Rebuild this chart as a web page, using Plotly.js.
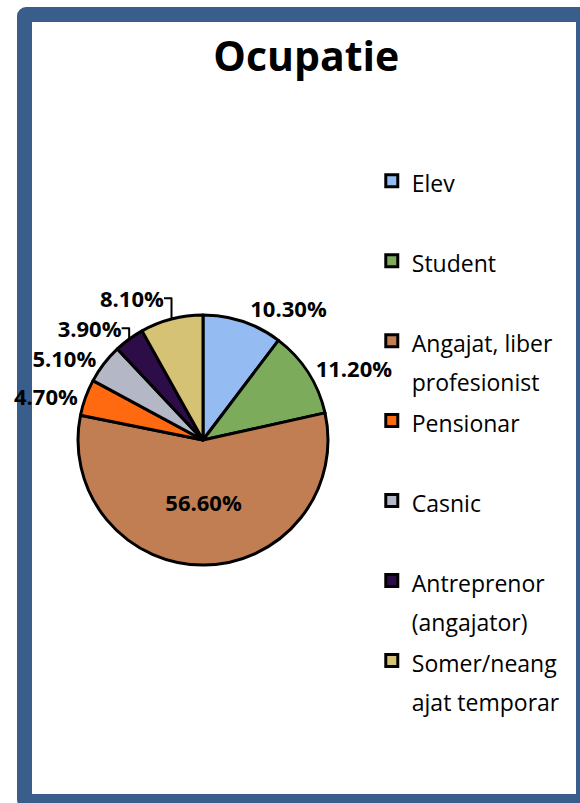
<!DOCTYPE html>
<html>
<head>
<meta charset="utf-8">
<script src="https://cdn.plot.ly/plotly-3.0.1.min.js"></script>
<style>
  html, body { margin: 0; padding: 0; background: #ffffff; overflow: hidden; }
  #frame { position: absolute; left: 17px; top: 7px; width: 574px; height: 802px;
           border: 15px solid #3A5E8C; border-radius: 9px; box-sizing: border-box; background: #ffffff; }
  #chart { position: absolute; left: 0; top: 0; width: 580px; height: 803px; }
</style>
</head>
<body>
<div id="frame"></div>
<div id="chart"></div>
<script>
// Data
const categories = ['Elev', 'Student', 'Angajat, liber<br>profesionist', 'Pensionar', 'Casnic',
                    'Antreprenor<br>(angajator)', 'Somer/neang<br>ajat temporar'];
const shares = [10.3, 11.2, 56.6, 4.7, 5.1, 3.9, 8.1];
const sliceColors = ['#94BCF2', '#7DAB5C', '#C07E52', '#FF6A10', '#B4B8C6', '#2C0D48', '#D6C274'];
const chartTitle = 'Ocupatie';

// legend labels: keep every entry two lines tall so entries are evenly spaced
const legendLabels = categories.map(c => {
  const lines = c.split('<br>');
  while (lines.length < 2) lines.push(' ');
  return lines.map(l => '<span style="font-size:23px">' + l + '</span>').join('<br>');
});

const trace = {
  type: 'pie',
  labels: legendLabels,
  values: shares,
  sort: false,
  direction: 'clockwise',
  rotation: 0,
  marker: { colors: sliceColors, line: { color: '#000000', width: 3 } },
  texttemplate: '%{value:.2f}%',
  textposition: ['outside', 'outside', 'inside', 'outside', 'outside', 'outside', 'outside'],
  insidetextorientation: 'horizontal',
  textfont: { family: 'Open Sans', size: 22, color: '#000000', weight: 'bold' },
  outsidetextfont: { family: 'Open Sans', size: 22, color: '#000000', weight: 'bold' },
  hoverinfo: 'none',
  domain: { x: [0.1345, 0.5655], y: [0.2964, 0.6077] }
};

const layout = {
  width: 580, height: 803,
  margin: { l: 0, r: 0, t: 0, b: 0 },
  paper_bgcolor: 'rgba(0,0,0,0)',
  plot_bgcolor: 'rgba(0,0,0,0)',
  title: { text: '<b>' + chartTitle + '</b>', x: 0.528, xanchor: 'center', y: 0.929, yanchor: 'middle',
           font: { family: 'Open Sans', size: 41, color: '#000000' } },
  showlegend: true,
  legend: { x: 0.641, xanchor: 'left', y: 0.807, yanchor: 'top', valign: 'top',
            font: { family: 'Open Sans', size: 29.6, color: '#000000' },
            bgcolor: 'rgba(0,0,0,0)', borderwidth: 0, itemclick: false, itemdoubleclick: false }
};

Plotly.newPlot('chart', [trace], layout, { staticPlot: true, displayModeBar: false });
</script>
</body>
</html>
